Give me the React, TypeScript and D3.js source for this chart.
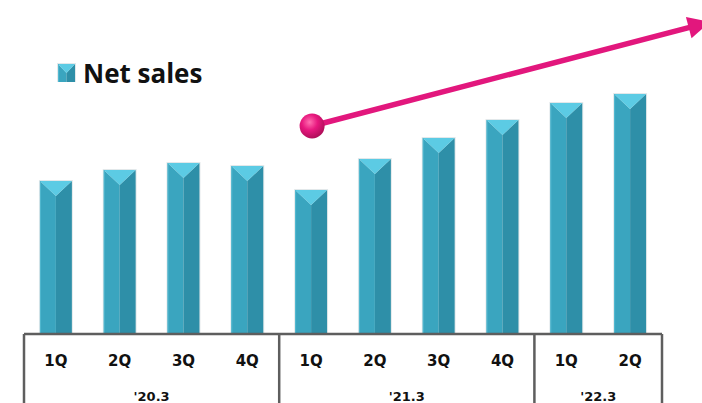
import React from "react";
import * as d3 from "d3";

const quarters = ["1Q", "2Q", "3Q", "4Q", "1Q", "2Q", "3Q", "4Q", "1Q", "2Q"];
const fiscalYears = ["'20.3", "'20.3", "'20.3", "'20.3", "'21.3", "'21.3", "'21.3", "'21.3", "'22.3", "'22.3"];
const netSales = [153, 164, 171, 168, 144, 175, 196, 214, 231, 240];
const legendLabel = "Net sales";
const arrowStartValue = 208;
const arrowEndValue = 312;

const W = 702;
const H = 403;
const left = 24;
const right = 662;
const baseY = 334;

export default function App() {
  const ids = quarters.map((_, i) => String(i));
  const x = d3.scaleBand<string>().domain(ids).range([left, right]).paddingInner(0.5).paddingOuter(0.25);
  const y = d3.scaleLinear().domain([0, 250]).range([baseY, baseY - 250]);
  const bw = x.bandwidth();
  const step = x.step();

  const groups: { label: string; start: number; end: number }[] = [];
  fiscalYears.forEach((fy, i) => {
    const last = groups[groups.length - 1];
    if (last && last.label === fy) last.end = i;
    else groups.push({ label: fy, start: i, end: i });
  });
  const edgeX = (i: number) => left + step * i;

  const barShape = (x0: number, top: number, w: number, bottom: number, key: string | number) => {
    const cx = x0 + w / 2;
    const bev = Math.min(15, (bottom - top) / 2);
    return (
      <g key={key}>
        <rect x={x0 - 1} y={top - 1} width={w + 2} height={bottom - top + 1} fill="#cfd8dc" opacity={0.6} />
        <polygon points={`${x0},${top} ${cx},${top + bev} ${cx},${bottom} ${x0},${bottom}`} fill="#3aa5bf" />
        <polygon points={`${x0 + w},${top} ${cx},${top + bev} ${cx},${bottom} ${x0 + w},${bottom}`} fill="#2e8fa8" />
        <polygon points={`${x0},${top} ${x0 + w},${top} ${cx},${top + bev}`} fill="#5ccbe4" />
        <line x1={x0 + 0.5} y1={top} x2={x0 + 0.5} y2={bottom} stroke="#52b8d0" strokeWidth={1} />
      </g>
    );
  };

  const ax0 = (x("4") as number) + bw / 2 + 1;
  const ay0 = y(arrowStartValue);
  const ax1 = W + 8;
  const ay1 = y(arrowEndValue);
  const ang = Math.atan2(ay1 - ay0, ax1 - ax0);
  const headLen = 22;
  const headW = 11;
  const bx = ax1 - headLen * Math.cos(ang);
  const by = ay1 - headLen * Math.sin(ang);
  const px = -Math.sin(ang);
  const py = Math.cos(ang);

  return (
    <div style={{ position: "fixed", left: 0, top: 0, width: W, height: H, background: "#fff" }}>
      <svg width={W} height={H} style={{ display: "block" }}>
        <defs>
          <radialGradient id="ball" cx="0.4" cy="0.35" r="0.7">
            <stop offset="0" stopColor="#ff6fb0" />
            <stop offset="0.45" stopColor="#e8187f" />
            <stop offset="1" stopColor="#a80d55" />
          </radialGradient>
        </defs>

        {barShape(58, 64, 17, 82, "legend")}
        <text x={83} y={83} fontFamily="'Open Sans', 'DejaVu Sans', sans-serif" fontWeight="bold" fontSize={26} fill="#111">
          {legendLabel}
        </text>

        {netSales.map((v, i) => barShape(x(String(i)) as number, y(v), bw, baseY, i))}

        <line x1={ax0} y1={ay0} x2={bx} y2={by} stroke="#e2177d" strokeWidth={5.5} strokeLinecap="round" />
        <polygon
          points={`${ax1},${ay1} ${bx + px * headW},${by + py * headW} ${bx - px * headW},${by - py * headW}`}
          fill="#e2177d"
        />
        <circle cx={ax0} cy={ay0} r={12.5} fill="url(#ball)" />

        <g stroke="#5e5e5e" strokeWidth={2.5}>
          <line x1={left} y1={baseY} x2={right} y2={baseY} />
          {groups.map((g) => (
            <line key={"s" + g.label} x1={edgeX(g.start)} y1={baseY} x2={edgeX(g.start)} y2={H} />
          ))}
          <line x1={right} y1={baseY} x2={right} y2={H} />
        </g>
        {quarters.map((q, i) => (
          <text
            key={"q" + i}
            x={(x(String(i)) as number) + bw / 2}
            y={366}
            textAnchor="middle"
            fontFamily="'DejaVu Sans', sans-serif"
            fontWeight="bold"
            fontSize={15}
            fill="#111"
          >
            {q}
          </text>
        ))}
        {groups.map((g) => (
          <text
            key={"g" + g.label}
            x={(edgeX(g.start) + edgeX(g.end + 1)) / 2}
            y={401}
            textAnchor="middle"
            fontFamily="'DejaVu Sans', sans-serif"
            fontWeight="bold"
            fontSize={13}
            fill="#111"
          >
            {g.label}
          </text>
        ))}
      </svg>
    </div>
  );
}
